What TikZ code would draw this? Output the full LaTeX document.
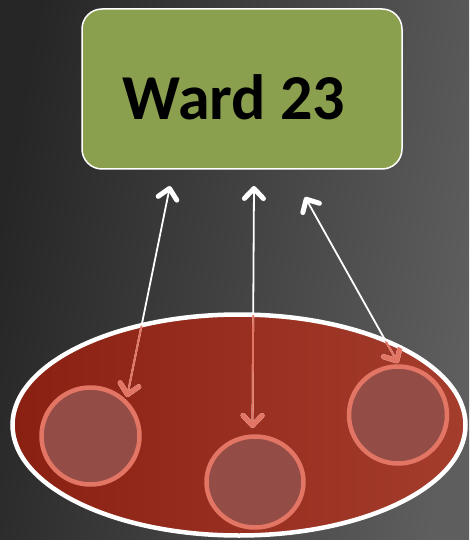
\documentclass[tikz,border=0pt]{standalone}
\usepackage{fontspec}
\setmainfont{Carlito}
\usetikzlibrary{shapes.geometric,arrows.meta}
\definecolor{bgL}{HTML}{262626}
\definecolor{bgR}{HTML}{5E5E5E}
\definecolor{wardgreen}{HTML}{8BA04F}
\definecolor{redL}{HTML}{8A2012}
\definecolor{redR}{HTML}{A53D2D}
\definecolor{cellfill}{HTML}{934D46}
\definecolor{salmon}{HTML}{E37565}
\tikzset{
  wardbox/.style={draw=white, line width=1.5pt, fill=wardgreen, rounded corners=20pt,
    minimum width=320pt, minimum height=160pt, inner sep=0pt},
  region/.style={ellipse, draw=white, line width=4.5pt, left color=redL, right color=redR,
    minimum width=453pt, minimum height=221pt, inner sep=0pt},
  cell/.style={ellipse, draw=salmon, line width=4.5pt, fill=cellfill, inner sep=0pt},
  barbtip/.tip={Straight Barb[length=10pt,width=19pt,line width=5pt,round]},
  link/.style={line width=1.8pt, barbtip-barbtip}
}
\begin{document}
\begin{tikzpicture}[x=1pt,y=-1pt]
  \shade[left color=bgL, right color=bgR, shading angle=80] (0,0) rectangle (469,540);
  \useasboundingbox (0,0) rectangle (469,540);
  \node[wardbox] (ward) at (242,89) {};
  \node[font=\bfseries\fontsize{64}{64}\selectfont, anchor=center] (label) at (234,97) {Ward 23};
  \node[region] (reg) at (239,425) {};
  \node[cell, minimum width=98pt, minimum height=97pt] (c1) at (90.5,436) {};
  \node[cell, minimum width=97pt, minimum height=91pt] (c2) at (255,482) {};
  \node[cell, minimum width=98pt, minimum height=97pt] (c3) at (398,415) {};
  \coordinate (b1) at (127,397);
  \coordinate (t1) at (170,186);
  \coordinate (b2) at (252.5,428);
  \coordinate (t2) at (254,186);
  \coordinate (b3) at (398,363);
  \coordinate (t3) at (305,197);
  \draw[link, white] (b1) -- (t1);
  \draw[link, white] (b2) -- (t2);
  \draw[link, white] (b3) -- (t3);
  \begin{scope}
    \clip (239,425) ellipse [x radius=226, y radius=110];
    \draw[link, salmon] (b1) -- (t1);
    \draw[link, salmon] (b2) -- (t2);
    \draw[link, salmon] (b3) -- (t3);
  \end{scope}
\end{tikzpicture}
\end{document}
